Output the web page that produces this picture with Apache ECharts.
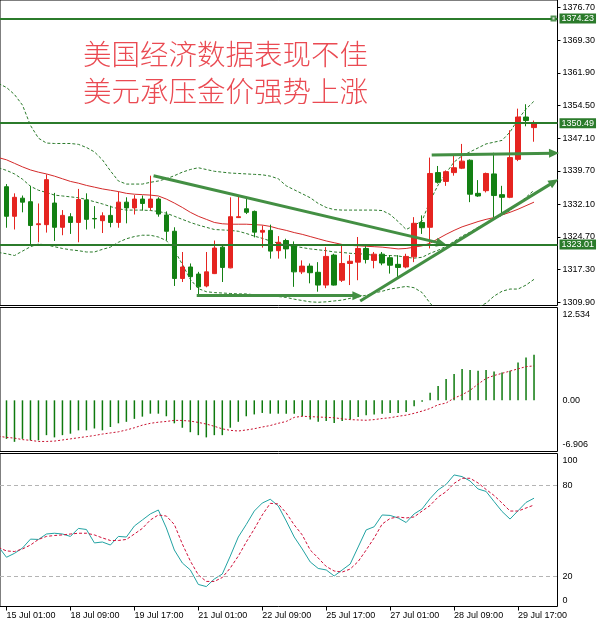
<!DOCTYPE html>
<html>
<head>
<meta charset="utf-8">
<script src="https://cdn.jsdelivr.net/npm/echarts@6/dist/echarts.min.js"></script>
<style>
  html, body { margin: 0; padding: 0; background: #fff; }
  #chart { width: 600px; height: 624px; }
</style>
</head>
<body>
<div id="chart"></div>
<script>
// XAUUSD H4, candles from index 0: [open, close, low, high]
var candles = [
  [1336.1, 1329.4, 1326.8, 1336.7], [1329.4, 1333.7, 1326.4, 1334.6], [1333.5, 1332.6, 1330.3, 1334.1],
  [1332.7, 1327.3, 1322.8, 1336.3], [1327.5, 1327.7, 1323.5, 1332.3], [1327.5, 1337.7, 1325.7, 1338.9],
  [1332.4, 1326.9, 1323.8, 1334.7], [1326.9, 1329.6, 1325.1, 1330.8], [1329.3, 1328.0, 1325.4, 1330.1],
  [1328.0, 1333.2, 1323.5, 1335.6], [1333.1, 1328.7, 1326.4, 1334.6], [1328.9, 1328.8, 1326.6, 1331.7],
  [1328.4, 1329.5, 1325.6, 1330.3], [1329.6, 1328.0, 1326.9, 1331.8], [1328.0, 1332.6, 1326.8, 1335.0],
  [1332.6, 1331.3, 1327.8, 1333.7], [1331.3, 1333.3, 1329.8, 1334.2], [1333.3, 1332.3, 1330.7, 1334.1],
  [1331.4, 1333.3, 1330.7, 1338.6], [1333.3, 1329.9, 1329.3, 1333.7], [1329.7, 1326.0, 1323.9, 1330.5],
  [1326.0, 1315.3, 1313.6, 1326.9], [1315.3, 1317.9, 1314.5, 1321.3], [1317.9, 1315.7, 1312.7, 1318.7],
  [1316.3, 1313.4, 1311.2, 1316.8], [1313.6, 1316.8, 1313.3, 1321.3], [1316.4, 1322.2, 1316.3, 1323.9],
  [1322.4, 1317.8, 1314.5, 1323.0], [1317.7, 1329.3, 1317.6, 1333.7], [1329.1, 1329.3, 1329.0, 1333.9],
  [1331.1, 1330.3, 1329.9, 1333.7], [1330.5, 1325.8, 1324.6, 1330.7], [1325.8, 1326.2, 1322.3, 1327.3],
  [1326.2, 1321.5, 1319.8, 1327.5], [1321.6, 1323.5, 1319.8, 1324.9], [1323.9, 1322.0, 1319.8, 1324.3],
  [1322.8, 1316.8, 1313.4, 1323.7], [1316.8, 1318.1, 1316.3, 1319.4], [1318.1, 1316.6, 1314.2, 1318.7],
  [1316.7, 1313.8, 1312.3, 1319.0], [1313.8, 1320.3, 1313.1, 1322.4], [1320.6, 1313.8, 1313.7, 1320.9],
  [1314.9, 1318.7, 1314.5, 1322.8], [1318.7, 1319.2, 1313.8, 1320.6], [1319.0, 1322.1, 1314.9, 1324.7],
  [1322.1, 1319.6, 1318.7, 1322.6], [1319.4, 1320.8, 1317.6, 1321.3], [1320.8, 1318.8, 1318.3, 1321.3],
  [1320.0, 1318.3, 1316.4, 1320.6], [1318.5, 1317.8, 1315.3, 1320.6], [1317.9, 1320.3, 1317.6, 1320.9],
  [1320.2, 1327.8, 1319.0, 1329.2], [1328.0, 1326.8, 1325.4, 1329.6], [1326.9, 1339.1, 1322.1, 1342.7],
  [1339.3, 1337.1, 1336.8, 1340.8], [1337.3, 1339.5, 1336.3, 1339.8], [1339.3, 1340.4, 1338.6, 1343.1],
  [1340.3, 1341.9, 1340.1, 1345.8], [1342.1, 1334.4, 1332.6, 1342.3], [1334.6, 1334.0, 1333.8, 1337.6],
  [1335.2, 1339.1, 1334.8, 1339.3], [1339.0, 1334.1, 1329.2, 1343.8], [1334.3, 1333.7, 1329.9, 1336.3],
  [1333.7, 1342.7, 1333.5, 1348.9], [1342.3, 1351.9, 1341.9, 1353.8], [1351.9, 1351.1, 1349.8, 1354.8],
  [1349.5, 1350.5, 1346.3, 1351.1]
];

// indicator lines start one bar earlier (index -1)
var bbUpper = [
  1359.5, 1358.6, 1357.0, 1354.6, 1350.0, 1347.1, 1346.0, 1345.9, 1345.9, 1345.9, 1345.7, 1345.0,
  1344.0, 1342.2, 1339.7, 1337.4, 1336.7, 1336.7, 1336.7, 1337.1, 1337.4, 1337.9, 1338.6, 1339.4,
  1340.0, 1340.4, 1340.0, 1339.6, 1339.4, 1339.2, 1339.1, 1339.0, 1338.9, 1338.8, 1338.5, 1337.9,
  1336.3, 1335.4, 1334.5, 1333.6, 1332.3, 1331.4, 1330.9, 1330.8, 1330.8, 1330.8, 1330.8, 1330.8,
  1330.7, 1329.8, 1328.2, 1326.4, 1327.3, 1328.4, 1332.9, 1336.5, 1339.2, 1341.7, 1343.1, 1344.0,
  1344.9, 1345.8, 1346.2, 1346.6, 1348.5, 1351.4, 1353.7, 1355.5
];
var bbMiddle = [
  1340.4, 1339.8, 1339.0, 1337.8, 1336.2, 1335.3, 1334.8, 1334.2, 1334.0, 1333.8, 1333.6, 1333.2,
  1332.7, 1332.2, 1331.6, 1331.1, 1330.8, 1330.8, 1330.8, 1330.7, 1330.5, 1330.1, 1329.4, 1328.7,
  1328.0, 1327.4, 1326.9, 1326.4, 1326.3, 1326.2, 1326.0, 1325.5, 1324.9, 1324.4, 1323.8, 1323.3,
  1322.8, 1322.6, 1322.3, 1322.0, 1321.8, 1321.6, 1321.3, 1321.2, 1321.0, 1320.9, 1320.8, 1320.5,
  1320.5, 1320.5, 1320.4, 1320.1, 1319.9, 1320.1, 1321.0, 1321.7, 1322.6, 1323.7, 1324.9, 1325.8,
  1326.9, 1327.8, 1328.8, 1329.6, 1330.7, 1332.2, 1333.7, 1335.3
];
var bbLower = [
  1321.2, 1320.9, 1320.5, 1321.5, 1322.5, 1323.1, 1322.9, 1322.5, 1322.1, 1321.8, 1321.6, 1321.3,
  1321.3, 1321.9, 1322.4, 1323.5, 1324.3, 1324.8, 1325.1, 1325.1, 1324.7, 1323.9, 1321.7, 1318.5,
  1315.1, 1313.0, 1312.3, 1312.1, 1312.0, 1311.9, 1311.8, 1311.8, 1311.6, 1311.5, 1311.4, 1311.2,
  1311.0, 1310.6, 1310.3, 1310.0, 1309.9, 1310.0, 1310.2, 1310.4, 1310.8, 1311.1, 1311.5, 1312.0,
  1312.4, 1312.9, 1313.2, 1313.5, 1313.2, 1312.1, 1309.7, 1307.7, 1305.9, 1305.7, 1306.8, 1307.7,
  1308.8, 1309.7, 1311.3, 1312.4, 1312.9, 1312.9, 1313.8, 1315.1
];
var maSlow = [
  1342.7, 1342.2, 1341.4, 1340.6, 1339.9, 1339.4, 1339.0, 1338.5, 1337.9, 1337.3, 1336.9, 1336.4,
  1336.0, 1335.6, 1335.3, 1335.0, 1334.6, 1334.4, 1334.3, 1334.2, 1334.0, 1333.3, 1332.4, 1331.4,
  1330.3, 1329.4, 1328.7, 1328.0, 1327.7, 1327.6, 1327.6, 1327.6, 1327.5, 1327.4, 1327.1, 1326.6,
  1326.2, 1325.7, 1325.3, 1324.8, 1324.3, 1323.8, 1323.4, 1323.0, 1322.8, 1322.7, 1322.6, 1322.5,
  1322.4, 1322.2, 1322.0, 1322.1, 1322.4, 1322.7, 1323.3, 1324.3, 1325.3, 1326.2, 1327.0, 1327.6,
  1328.2, 1328.7, 1329.1, 1329.7, 1330.3, 1331.0, 1331.8, 1332.6
];

// MACD histogram from index 0, signal from index -1
var macdHist = [
  -5.2, -5.6, -5.2, -5.4, -5.4, -4.7, -5.0, -4.7, -4.5, -4.05, -4.05, -3.8, -4.05, -3.6, -3.1, -2.9,
  -2.5, -2.2, -1.8, -1.8, -2.15, -3.1, -3.7, -4.3, -4.7, -5.0, -4.7, -4.7, -3.7, -2.9, -2.15, -1.9,
  -1.7, -1.8, -1.8, -1.8, -1.8, -2.15, -2.6, -2.9, -2.8, -3.05, -2.8, -2.6, -2.25, -2.0, -1.9, -1.8,
  -1.7, -1.7, -1.56, -0.8, -0.2, 1.02, 1.93, 2.88, 3.56, 4.24, 4.1, 4.0, 4.1, 3.9, 3.75, 4.0,
  5.1, 5.78, 6.14
];
var macdSignal = [
  -4.85, -5.0, -5.1, -5.3, -5.4, -5.55, -5.55, -5.5, -5.35, -5.2, -5.05, -4.9, -4.75, -4.55, -4.4,
  -4.25, -4.0, -3.7, -3.35, -3.1, -2.95, -2.85, -2.7, -2.72, -2.8, -2.98, -3.2, -3.5, -3.85, -4.05,
  -4.14, -4.0, -3.83, -3.6, -3.4, -3.1, -2.85, -2.3, -2.15, -2.2, -2.25, -2.3, -2.35, -2.5, -2.6,
  -2.65, -2.69, -2.6, -2.45, -2.35, -2.15, -2.0, -1.75, -1.45, -1.1, -0.6, -0.36, 0.3, 0.75, 1.35,
  2.2, 2.95, 3.35, 3.65, 3.95, 4.25, 4.55, 4.65
];

// Stochastic %K / %D from index -1
var stochK = [
  39.5, 32.6, 35.2, 38.7, 44.6, 44.4, 48.0, 48.5, 48.0, 46.4, 51.7, 51.0, 42.1, 42.7, 40.7, 46.4,
  46.0, 53.3, 57.3, 61.3, 63.9, 52.0, 37.4, 28.8, 24.2, 14.6, 13.2, 18.2, 21.5, 33.4, 46.0, 54.3,
  63.2, 68.5, 71.0, 66.6, 56.6, 46.0, 38.1, 29.5, 25.2, 24.2, 20.2, 24.2, 28.1, 39.4, 50.7, 52.8,
  60.6, 60.3, 58.6, 55.6, 61.3, 64.6, 71.5, 77.2, 80.8, 87.1, 86.0, 83.1, 77.8, 76.2, 69.5, 62.9,
  57.9, 63.4, 68.9, 71.7
];
var stochD = [
  39.0, 36.8, 36.4, 38.1, 40.7, 44.4, 46.4, 47.0, 47.4, 48.0, 48.5, 48.5, 47.4, 45.4, 43.7, 43.7,
  44.4, 48.0, 51.7, 57.3, 60.6, 59.9, 54.3, 41.4, 30.1, 20.9, 16.6, 16.6, 19.2, 25.5, 33.4, 42.7,
  51.3, 60.6, 68.3, 67.9, 61.9, 54.0, 47.4, 37.4, 32.1, 26.5, 23.5, 22.8, 24.8, 29.8, 37.4, 45.4,
  54.6, 58.3, 59.3, 58.6, 59.3, 63.2, 66.9, 72.5, 76.0, 81.5, 84.9, 84.9, 81.8, 77.5, 73.5, 68.5,
  63.2, 63.2, 65.2, 67.2
];

var timeLabels = ['15 Jul 01:00', '18 Jul 09:00', '19 Jul 17:00', '21 Jul 01:00', '22 Jul 09:00',
                  '25 Jul 17:00', '27 Jul 01:00', '28 Jul 09:00', '29 Jul 17:00'];
var timeTickIdx = [0, 8, 16, 24, 32, 40, 48, 56, 64];
var priceTicks = [1376.7, 1369.3, 1361.9, 1354.5, 1347.1, 1339.7, 1332.1, 1324.7, 1317.3, 1309.9];
var macdTicks = [12.534, 0, -6.906];
var stochTicks = [100, 80, 20, 0];
var levels = [1374.23, 1350.49, 1323.01];
var stochLevels = [80, 20];
// hand drawn arrows: [[bar index, price], [bar index, price]]
var trendLines = [
  [[18.4, 1338.6], [54.4, 1323.25]],
  [[23.8, 1311.4], [43.9, 1311.4]],
  [[44.25, 1310.2], [68.5, 1337.2]],
  [[53.2, 1343.3], [68.5, 1343.7]]
];
var levelMarker = [68.44, 1374.23];

var FONT = 'Liberation Sans';
var GREEN = '#2b7b2b';
var ARROW = '#438f43';
var X_MIN = -0.8125, X_MAX = 68.9375;

function pairs(arr, start) {
  return arr.map(function (v, k) { return [k + start, v]; });
}

var chart = echarts.init(document.getElementById('chart'));

var xAxisBase = function (gi) {
  return {
    type: 'value', gridIndex: gi, min: X_MIN, max: X_MAX,
    axisLine: { show: false, onZero: false }, splitLine: { show: false },
    axisTick: { show: false }, axisLabel: { show: false }
  };
};
var xBottom = xAxisBase(2);
xBottom.axisTick = { show: true, customValues: timeTickIdx, length: 4, lineStyle: { color: '#000' } };
xBottom.axisLabel = {
  show: true, customValues: timeTickIdx, align: 'left', margin: 5,
  fontSize: 9, fontFamily: FONT, color: '#000',
  formatter: function (v) { return timeLabels[timeTickIdx.indexOf(Math.round(v))] || ''; }
};

var gridBase = { left: -0.5, width: 558, show: true, borderColor: '#000', borderWidth: 1, containLabel: false };

chart.setOption({
  animation: false,
  backgroundColor: '#fff',
  title: {
    text: '美国经济数据表现不佳\n美元承压金价强势上涨',
    left: 78, top: 31,
    textStyle: { fontSize: 28.5, lineHeight: 36.5, color: '#ea4a52', fontWeight: 300,
                 fontFamily: 'Noto Sans CJK SC' }
  },
  grid: [
    Object.assign({ top: -2, height: 307.5 }, gridBase),
    Object.assign({ top: 307.5, height: 144 }, gridBase),
    Object.assign({ top: 453.5, height: 153 }, gridBase)
  ],
  xAxis: [xAxisBase(0), xAxisBase(1), xBottom],
  yAxis: [
    {
      type: 'value', gridIndex: 0, position: 'right', min: 1309.17, max: 1378.43,
      axisLine: { show: false, onZero: false }, splitLine: { show: false },
      axisTick: { show: true, customValues: priceTicks, length: 3, lineStyle: { color: '#000' } },
      axisLabel: { customValues: priceTicks, margin: 5, fontSize: 9, fontFamily: FONT, color: '#000',
                   formatter: function (v) { return v.toFixed(2); } }
    },
    {
      type: 'value', gridIndex: 1, position: 'right', min: -6.906, max: 12.534,
      axisLine: { show: false, onZero: false }, splitLine: { show: false },
      axisTick: { show: false },
      axisLabel: {
        customValues: macdTicks, margin: 5, fontSize: 9, fontFamily: FONT, color: '#000',
        formatter: function (v) {
          if (v > 10) return '{t|12.534}';
          if (v < -5) return '{b|-6.906}';
          return '0.00';
        },
        rich: {
          t: { fontSize: 9, fontFamily: FONT, color: '#000', padding: [14, 0, 0, 0] },
          b: { fontSize: 9, fontFamily: FONT, color: '#000', padding: [0, 0, 13, 0] }
        }
      }
    },
    {
      type: 'value', gridIndex: 2, position: 'right', min: 0, max: 101.3,
      axisLine: { show: false, onZero: false }, splitLine: { show: false },
      axisTick: { show: false },
      axisLabel: {
        customValues: stochTicks, margin: 5, fontSize: 9, fontFamily: FONT, color: '#000',
        formatter: function (v) {
          if (v === 100) return '{t|100}';
          if (v === 0) return '{b|0}';
          return String(v);
        },
        rich: {
          t: { fontSize: 9, fontFamily: FONT, color: '#000', padding: [10, 0, 0, 0] },
          b: { fontSize: 9, fontFamily: FONT, color: '#000', padding: [0, 0, 12, 0] }
        }
      }
    }
  ],
  series: [
    {
      type: 'line', xAxisIndex: 0, yAxisIndex: 0, data: pairs(bbUpper, -1),
      symbol: 'none', lineStyle: { color: GREEN, width: 1, type: [3, 2] }, z: 1
    },
    {
      type: 'line', xAxisIndex: 0, yAxisIndex: 0, data: pairs(bbMiddle, -1),
      symbol: 'none', lineStyle: { color: GREEN, width: 1, type: [3, 2] }, z: 1
    },
    {
      type: 'line', xAxisIndex: 0, yAxisIndex: 0, data: pairs(bbLower, -1),
      symbol: 'none', lineStyle: { color: GREEN, width: 1, type: [3, 2] }, z: 1
    },
    {
      type: 'line', xAxisIndex: 0, yAxisIndex: 0, data: pairs(maSlow, -1),
      symbol: 'none', lineStyle: { color: '#d42a2a', width: 1 }, z: 1,
      markLine: {
        silent: true, animation: false, symbol: ['none', 'triangle'], symbolSize: [9, 10],
        lineStyle: { color: ARROW, width: 3, type: 'solid' },
        label: { show: false },
        data: trendLines.map(function (t) { return [{ coord: t[0] }, { coord: t[1] }]; })
      }
    },
    {
      type: 'candlestick', xAxisIndex: 0, yAxisIndex: 0, barWidth: 5,
      data: candles.map(function (c, k) { return [k, c[0], c[1], c[2], c[3]]; }),
      encode: { x: 0, y: [1, 2, 3, 4] },
      itemStyle: { color: '#e52420', color0: '#138013', borderColor: '#e52420', borderColor0: '#138013', borderWidth: 1 },
      z: 2,
      markLine: {
        silent: true, animation: false, symbol: 'none',
        lineStyle: { color: GREEN, width: 2, type: 'solid' },
        label: {
          position: 'end', distance: 2, color: '#fff', backgroundColor: GREEN,
          padding: [1, 2, 0, 2], fontSize: 9, lineHeight: 9, fontFamily: FONT,
          formatter: function (p) { return p.value.toFixed(2); }
        },
        data: levels.map(function (v) { return { yAxis: v }; })
      }
    },
    {
      type: 'scatter', xAxisIndex: 0, yAxisIndex: 0, data: [levelMarker],
      symbol: 'emptyRect', symbolSize: 4, itemStyle: { color: GREEN, borderWidth: 1 }, z: 10
    },
    {
      type: 'bar', xAxisIndex: 1, yAxisIndex: 1, barWidth: 1.5,
      data: pairs(macdHist, 0), itemStyle: { color: '#0e7a0e' }
    },
    {
      type: 'line', xAxisIndex: 1, yAxisIndex: 1, data: pairs(macdSignal, -1),
      symbol: 'none', lineStyle: { color: '#c8102e', width: 1, type: [2, 2] }
    },
    {
      type: 'line', xAxisIndex: 2, yAxisIndex: 2, data: pairs(stochK, -1),
      symbol: 'none', lineStyle: { color: '#22a3a3', width: 1 },
      markLine: {
        silent: true, animation: false, symbol: 'none',
        lineStyle: { color: '#b4b4b4', width: 1, type: [4, 3] },
        label: { show: false },
        data: stochLevels.map(function (v) { return { yAxis: v }; })
      }
    },
    {
      type: 'line', xAxisIndex: 2, yAxisIndex: 2, data: pairs(stochD, -1),
      symbol: 'none', lineStyle: { color: '#d0103a', width: 1, type: [3, 2] }
    }
  ]
});
</script>
</body>
</html>
